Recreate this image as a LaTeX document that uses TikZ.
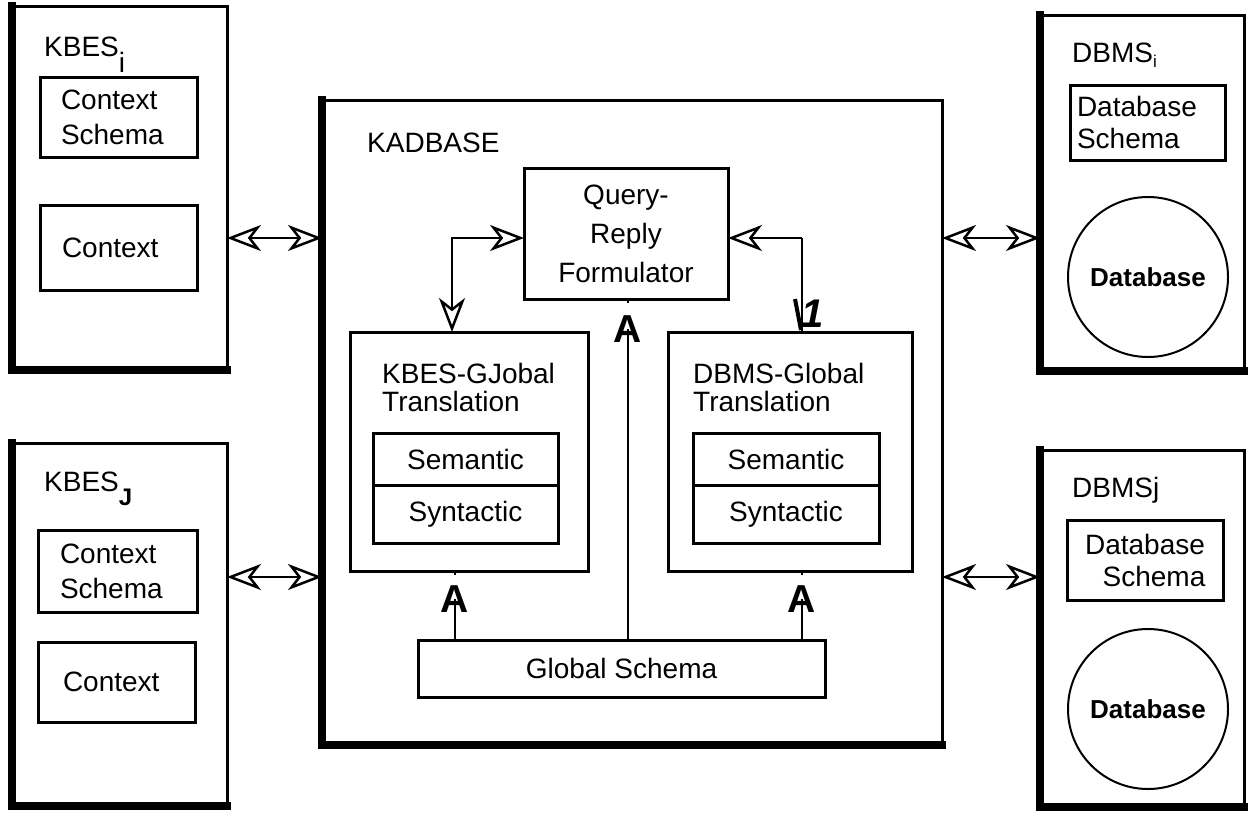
\documentclass[tikz,border=0pt]{standalone}
\usepackage{fontspec}
\setmainfont{Liberation Sans}
\usetikzlibrary{arrows.meta,calc}
\begin{document}
\begin{tikzpicture}[x=1pt,y=-1pt,
  every node/.style={font=\fontsize{28}{35}\selectfont, inner sep=0pt},
  panel/.style={draw, line width=3pt, anchor=north west, outer sep=0pt},
  box/.style={draw, line width=3pt, anchor=north west, outer sep=0pt, align=center},
  leftbox/.style={box, align=left, inner xsep=#1},
  heavy/.style={line width=8pt, line cap=rect},
  link/.style={line width=2pt},
  openhead/.tip={Stealth[open, length=34pt, width=26pt, inset=10pt, line width=2.5pt]},
  dual/.style={link, openhead-openhead},
  title/.style={anchor=base west},
  headA/.style={font=\fontsize{39}{39}\selectfont\bfseries, anchor=south},
  dbase/.style={circle, draw, line width=2pt, minimum size=160pt, font=\fontsize{26}{26}\selectfont\bfseries},
]
\useasboundingbox (0,0) rectangle (1248,815);

% ---------- knowledge-based expert system i ----------
\node[panel, minimum width=215pt, minimum height=364pt] (kbi) at (12,6) {};
\draw[heavy] (kbi.north west) -- (kbi.south west) -- (kbi.south east);
\node[title] (kbiname) at (44,56) {KBES\raisebox{-16pt}{i}};
\node[leftbox=21pt, text width=115pt, minimum width=157pt, minimum height=80pt] (kbics) at (40,77) {Context\\Schema};
\node[leftbox=22pt, text width=113pt, minimum width=157pt, minimum height=85pt] (kbictx) at (40,205) {Context};

% ---------- knowledge-based expert system j ----------
\node[panel, minimum width=215pt, minimum height=363pt] (kbj) at (12,443) {};
\draw[heavy] (kbj.north west) -- (kbj.south west) -- (kbj.south east);
\node[title] (kbjname) at (44,491) {KBES\raisebox{-14pt}{\fontsize{24}{24}\selectfont\bfseries J}};
\node[leftbox=22pt, text width=115pt, minimum width=159pt, minimum height=82pt] (kbjcs) at (38,530) {Context\\Schema};
\node[leftbox=25pt, text width=107pt, minimum width=157pt, minimum height=80pt] (kbjctx) at (38,642) {Context};

% ---------- KADBASE ----------
\node[panel, minimum width=620pt, minimum height=645pt] (kad) at (322,100) {};
\draw[heavy] (kad.north west) -- (kad.south west) -- (kad.south east);
\node[title] (kadname) at (367,152) {KADBASE};

\node[box, minimum width=204pt, minimum height=131pt, font=\fontsize{28}{39}\selectfont] (query) at (524,168) {Query-\\Reply\\Formulator};

\node[box, minimum width=238pt, minimum height=239pt] (kg) at (350,332) {};
\node[title] (kgname) at (382,383) {KBES-GJobal};
\node[title] (kgname2) at (382,411) {Translation};
\node[box, minimum width=185pt, minimum height=52pt] (kgsem) at (373,433) {Semantic};
\node[box, minimum width=185pt, minimum height=58pt] (kgsyn) at (373,485) {Syntactic};

\node[box, minimum width=244pt, minimum height=239pt] (dg) at (668,332) {};
\node[title] (dgname) at (693,383) {DBMS-Global};
\node[title] (dgname2) at (693,411) {Translation};
\node[box, minimum width=186pt, minimum height=52pt] (dgsem) at (693,433) {Semantic};
\node[box, minimum width=186pt, minimum height=58pt] (dgsyn) at (693,485) {Syntactic};

\node[box, minimum width=407pt, minimum height=57pt] (gs) at (418,640) {Global Schema};

% arrowheads printed as letters
\node[headA] (aL) at (455,613) {A};
\node[headA] (aC) at (628,343) {A};
\node[headA] (aR) at (802,613) {A};

% ---------- DBMS i ----------
\node[panel, minimum width=204pt, minimum height=356pt] (dbi) at (1040,15) {};
\draw[heavy] (dbi.north west) -- (dbi.south west) -- (dbi.south east);
\node[title] (dbiname) at (1072,62) {DBMS\raisebox{-5pt}{\fontsize{17}{17}\selectfont i}};
\node[leftbox=7pt, text width=141pt, minimum width=155pt, minimum height=75pt, font=\fontsize{28}{32}\selectfont] (dbis) at (1070,85) {Database\\Schema};
\node[dbase] (dbidb) at (1148,277) {Database};

% ---------- DBMS j ----------
\node[panel, minimum width=204pt, minimum height=357pt] (dbj) at (1040,450) {};
\draw[heavy] (dbj.north west) -- (dbj.south west) -- (dbj.south east);
\node[title] (dbjname) at (1072,497) {DBMSj};
\node[box, minimum width=156pt, minimum height=80pt, font=\fontsize{28}{32}\selectfont] (dbjs) at (1067,520) {Database\\\hspace*{18pt}Schema};
\node[dbase] (dbjdb) at (1148,709) {Database};

% ---------- connectors ----------
\coordinate (rowA) at (0,238);
\coordinate (rowB) at (0,577);
\draw[dual] (kbi.east |- rowA) -- (kad.west |- rowA);
\draw[dual] (kbj.east |- rowB) -- (kad.west |- rowB);
\draw[dual] (kad.east |- rowA) -- (dbi.west |- rowA);
\draw[dual] (kad.east |- rowB) -- (dbj.west |- rowB);

\coordinate (lc) at (452,238);
\coordinate (rc) at (802,238);
\draw[link, openhead-openhead] (kg.north -| lc) -- (lc) -- (query.west |- lc);
\draw[link, -openhead] (rc) -- (query.east |- rc);
\draw[link] (rc) -- (dg.north -| rc);
\draw[line width=4pt] ($(dg.north -| rc)+(-7,-33)$) -- ($(dg.north -| rc)+(-1,-2)$);
\node[anchor=base west, font=\fontsize{40}{40}\selectfont\bfseries\itshape] (one) at (801,327) {1};

\draw[link] (gs.north -| aL) -- (aL.center);
\draw[link] (gs.north -| aC) -- (aC.center);
\draw[link] (gs.north -| aR) -- (aR.center);
\draw[link] (kg.south -| aL) -- ++(0,4);
\draw[link] (query.south -| aC) -- ++(0,4);
\draw[link] (dg.south -| aR) -- ++(0,4);
\end{tikzpicture}
\end{document}
